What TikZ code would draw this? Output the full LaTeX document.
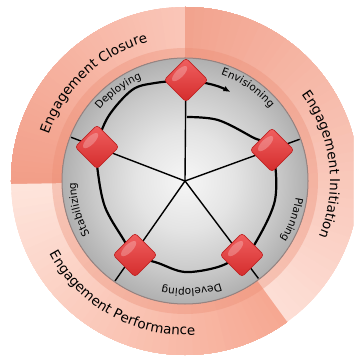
\documentclass[tikz,border=0pt]{standalone}
\usepackage{fontspec}
\setmainfont{DejaVu Sans}
\usetikzlibrary{shapes.geometric,decorations.text,arrows.meta}
\definecolor{cloLight}{RGB}{250,198,184}
\definecolor{cloDark}{RGB}{242,158,136}
\definecolor{iniLight}{RGB}{253,222,213}
\definecolor{iniDark}{RGB}{242,163,142}
\definecolor{perLight}{RGB}{254,228,219}
\definecolor{perDark}{RGB}{246,168,146}
\definecolor{bandCol}{RGB}{235,140,115}
\definecolor{diskA}{RGB}{246,246,246}
\definecolor{diskB}{RGB}{228,228,228}
\definecolor{diskC}{RGB}{200,200,200}
\definecolor{diskD}{RGB}{176,176,176}
\definecolor{diskEdge}{RGB}{150,132,130}
\definecolor{diamTop}{RGB}{240,96,96}
\definecolor{diamBot}{RGB}{212,44,44}
\definecolor{diamEdge}{RGB}{190,36,36}
\pgfdeclareradialshading{diskshade}{\pgfpoint{0bp}{0bp}}{color(0bp)=(diskA); color(10bp)=(diskB); color(19bp)=(diskC); color(25bp)=(diskD); color(50bp)=(diskD)}
\newcommand\outfont{\fontsize{13.5}{14}\selectfont}
\newcommand\infont{\fontsize{10.5}{11}\selectfont}
\begin{document}
\begin{tikzpicture}[x=1pt,y=1pt,
  spoke/.style={line width=1.4pt, black},
  cyc/.style={line width=2.2pt, black},
  phase/.style={diamond, minimum width=44pt, minimum height=44pt, inner sep=0pt,
    rounded corners=3pt, draw=diamEdge, line width=0.6pt,
    top color=diamTop, bottom color=diamBot},
  hl/.style={white, opacity=0.25}]
\useasboundingbox (-185,-177) rectangle (168,181);
\clip (-185,-177) rectangle (168,181);

% outer ring sectors with angular gradients
\begin{scope}
\clip (0,0) circle[radius=174];
\foreach \i in {0,...,44} {
  \pgfmathsetmacro\a{90+\i*91/45}
  \pgfmathtruncatemacro\t{100*\i/44}
  \fill[cloDark!\t!cloLight] (0,0) -- (\a:180) arc[start angle=\a, end angle=181, radius=180] -- cycle;
}
\foreach \i in {0,...,44} {
  \pgfmathsetmacro\a{181+\i*125/45}
  \pgfmathtruncatemacro\t{100*\i/44}
  \fill[perDark!\t!perLight] (0,0) -- (\a:180) arc[start angle=\a, end angle=306, radius=180] -- cycle;
}
\foreach \i in {0,...,44} {
  \pgfmathsetmacro\a{-54+\i*144/45}
  \pgfmathtruncatemacro\t{100*\i/44}
  \fill[iniDark!\t!iniLight] (0,0) -- (\a:180) arc[start angle=\a, end angle=90, radius=180] -- cycle;
}
\end{scope}

% darker band around the disk
\fill[bandCol, opacity=0.35] (0,0) circle[radius=133];

% grey disk
\fill[shading=diskshade] (0,0) circle[radius=123];
\draw[diskEdge, line width=1pt] (0,0) circle[radius=123];

% spokes
\coordinate (c) at (0,0);
\coordinate (e1) at (89.5:122);
\coordinate (e2) at (20:122);
\coordinate (e3) at (-53:122);
\coordinate (e4) at (-125:122);
\coordinate (e5) at (159:122);
\foreach \e in {e1,e2,e3,e4,e5} { \draw[spoke] (c) -- (\e); }

% cycle spiral
\draw[cyc] plot[smooth, tension=0.55] coordinates {
  (2,64) (33,61) (67,44) (87,31) (90,-19) (68,-66) (57,-74) (33,-86) (0,-91)
  (-27,-82) (-50,-74) (-63,-56) (-80,-26) (-87,8) (-88,34) (-77,64) (-53,91)
  (-30,98) (1,101)};
\coordinate (a0) at (86:100);
\draw[cyc, -{Latex[length=7pt, width=6pt]}] (a0) arc[start angle=86, end angle=63, radius=100];

% phase diamonds
\node[phase] (d1) at (1,101) {};
\node[phase] (d2) at (87,31) {};
\node[phase] (d3) at (57,-74) {};
\node[phase] (d4) at (-50,-74) {};
\node[phase] (d5) at (-88,34) {};
\foreach \d in {d1,d2,d3,d4,d5} {
  \begin{scope}[shift={(\d.center)}]
    \fill[hl, rotate=45] (0,9) ellipse[x radius=10, y radius=4];
  \end{scope}
}

% inner labels (clockwise)
\path[decorate, decoration={text along path, text align=center, text={|\infont|Deploying}}]
  (150:111) arc[start angle=150, end angle=103, radius=111];
\path[decorate, decoration={text along path, text align=center, text={|\infont|Envisioning}}]
  (82:112) arc[start angle=82, end angle=30, radius=112];
\path[decorate, decoration={text along path, text align=center, text={|\infont|Planning}}]
  (6:112) arc[start angle=6, end angle=-46, radius=112];
\path[decorate, decoration={text along path, text align=center, text={|\infont|Developing}}]
  (-60:108) arc[start angle=-60, end angle=-113, radius=108];
\path[decorate, decoration={text along path, text align=center, text={|\infont|Stabilizing}}]
  (221:109) arc[start angle=221, end angle=169, radius=109];

% outer labels
\path[decorate, decoration={text along path, text align=center, text={|\outfont|Engagement Closure}}]
  (178:144) arc[start angle=178, end angle=88, radius=144];
\path[decorate, decoration={text along path, text align=center, text={|\outfont|Engagement Initiation}}]
  (52:145) arc[start angle=52, end angle=-38, radius=145];
\path[decorate, decoration={text along path, text align=center, text={|\outfont|Engagement Performance}}]
  (191:154) arc[start angle=191, end angle=291, radius=154];
\end{tikzpicture}
\end{document}
